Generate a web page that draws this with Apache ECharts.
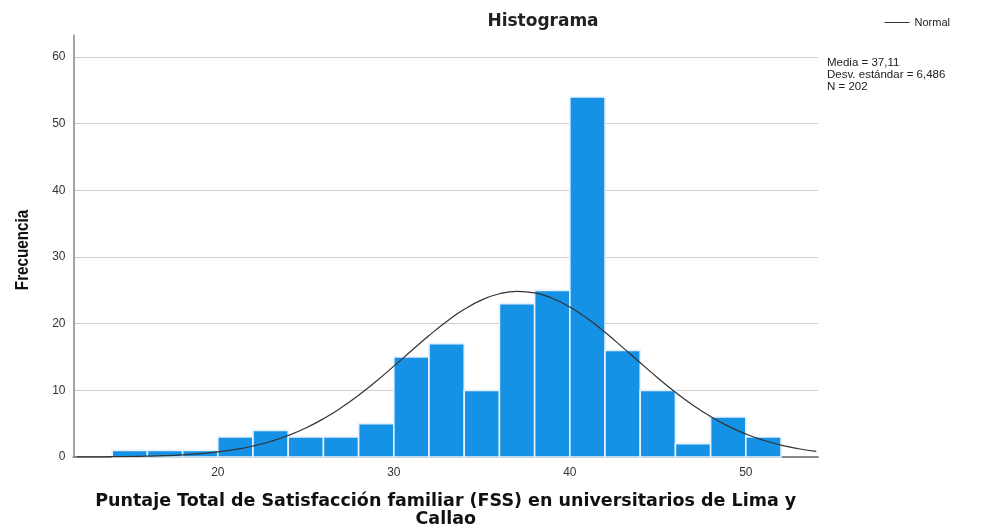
<!DOCTYPE html>
<html><head><meta charset="utf-8">
<script src="https://cdn.jsdelivr.net/npm/echarts@6/dist/echarts.min.js"></script>
<style>html,body{margin:0;padding:0;background:#fff}#c{width:983px;height:530px}</style>
</head><body><div id="c"></div>
<script>
// Histogram bins (lower edge, upper edge) and frequencies
const binStarts = [14,16,18,20,22,24,26,28,30,32,34,36,38,40,42,44,46,48,50];
const binWidth = 2;
const frequencies = [1,1,1,3,4,3,3,5,15,17,10,23,25,54,16,10,2,6,3];
// Normal curve (x, expected frequency)
const curveX = [12,13,14,15,16,17,18,19,20,21,22,23,24,25,26,27,28,29,30,31,32,33,34,35,36,37,38,39,40,41,42,43,44,45,46,47,48,49,50,51,52,53,54];
const curveY = [0.014,0.025,0.044,0.074,0.125,0.203,0.324,0.504,0.766,1.137,1.647,2.33,3.221,4.349,5.731,7.373,9.267,11.37,13.63,15.94,18.22,20.33,22.15,23.57,24.49,24.85,24.62,23.82,22.5,20.76,18.7,16.45,14.13,11.86,9.714,7.771,6.069,4.63,3.449,2.509,1.782,1.236,0.837];
const xTicks = [20,30,40,50];
const yTicks = [0,10,20,30,40,50,60];
const statsLines = ['Media = 37,11','Desv. estándar = 6,486','N = 202'];

const histData = binStarts.map((s,i)=>[s, s+binWidth, frequencies[i]]);
const curveData = curveX.map((x,i)=>[x, curveY[i]]);

const chart = echarts.init(document.getElementById('c'), null, {renderer:'canvas'});
chart.setOption({
  animation:false,
  textStyle:{fontFamily:'Liberation Sans, Arial, sans-serif'},
  title:{text:'Histograma', left:538, top:8, textAlign:'center',
    textStyle:{fontSize:17, fontWeight:'bold', color:'#222', fontFamily:'DejaVu Sans, sans-serif'}},
  legend:{data:[{name:'Normal', icon:'rect'}], right:28, top:12, itemWidth:25, itemHeight:1, itemGap:4,
    textStyle:{fontSize:11, color:'#222'}},
  grid:{left:73.5, right:165, top:35, bottom:73, containLabel:false, outerBoundsMode:'none'},
  xAxis:{type:'value', min:11.8, max:54.1,
    name:'Puntaje Total de Satisfacción familiar (FSS) en universitarios de Lima y\nCallao',
    nameLocation:'middle', nameGap:35,
    nameTextStyle:{fontSize:17.5, fontWeight:'bold', color:'#111', lineHeight:18, fontFamily:'DejaVu Sans, sans-serif'},
    axisLine:{show:true, lineStyle:{color:'#888', width:2}},
    axisTick:{show:false, customValues:xTicks},
    axisLabel:{customValues:xTicks, fontSize:12, color:'#333', margin:10},
    splitLine:{show:false}},
  yAxis:{type:'value', min:0, max:63.3,
    axisLine:{show:true, lineStyle:{color:'#888', width:1.5}},
    axisTick:{show:false, customValues:yTicks},
    axisLabel:{customValues:yTicks, fontSize:12, color:'#333', margin:8},
    splitLine:{show:true, lineStyle:{color:'#d0d0d0', width:1.2}}},
  graphic:[
    {type:'text', left:827, top:57, style:{text:statsLines.join('\n'), fontSize:11.5, lineHeight:12, fill:'#222', fontFamily:'Liberation Sans, Arial, sans-serif'}},
    {type:'text', x:23, y:250, rotation:Math.PI/2, scaleX:0.8,
      style:{text:'Frecuencia', fill:'#111', font:'bold 19px "Liberation Sans", Arial, sans-serif', align:'center', verticalAlign:'middle'}}
  ],
  series:[
    {type:'custom', name:'Frecuencia', data:histData, encode:{x:[0,1], y:2},
      renderItem:function(params, api){
        const p0 = api.coord([api.value(0), api.value(2)]);
        const p1 = api.coord([api.value(1), 0]);
        return {type:'rect', shape:{x:p0[0], y:p0[1], width:p1[0]-p0[0], height:p1[1]-p0[1]},
          style:{fill:'#1591e6', stroke:'#e6f2fb', lineWidth:1.6}};
      }, z:2},
    {type:'line', name:'Normal', data:curveData, smooth:true, showSymbol:false,
      lineStyle:{color:'#333', width:1.2}, itemStyle:{color:'#333'}, z:3}
  ]
});
</script></body></html>
